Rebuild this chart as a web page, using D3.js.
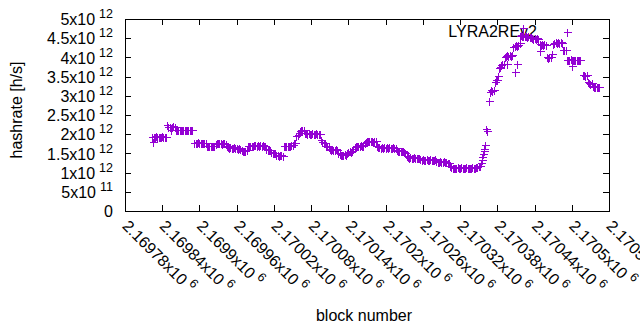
<!DOCTYPE html>
<html><head><meta charset="utf-8">
<script src="https://cdn.jsdelivr.net/npm/d3@7"></script>
<style>
body{margin:0;background:#fff}
svg{display:block}
text{font-family:"Liberation Sans",Arial,sans-serif;fill:#000}
</style>
</head><body>
<svg id="chart" width="640" height="330"></svg>
<script>
// ---- data ----
const seriesName = "LYRA2REv2";
const xTitle = "block number";
const yTitle = "hashrate [h/s]";
const xTickValues = [2169780,2169840,2169900,2169960,2170020,2170080,2170140,2170200,2170260,2170320,2170380,2170440,2170500,2170560];
const xTickMantissa = ["2.16978","2.16984","2.1699","2.16996","2.17002","2.17008","2.17014","2.1702","2.17026","2.17032","2.17038","2.17044","2.1705","2.17056"];
const xTickExponent = "6";
const yTickValues = [0,5e11,1e12,1.5e12,2e12,2.5e12,3e12,3.5e12,4e12,4.5e12,5e12];
const yTickMantissa = ["0","5","1","1.5","2","2.5","3","3.5","4","4.5","5"];
const yTickExponent = ["","11","12","12","12","12","12","12","12","12","12"];
const hashUnit = 1e12; // sample values below are in units of 10^12 h/s
// [block number, hashrate / 1e12]
const samples = [
[2169824,1.92],[2169826,1.94],[2169828,1.93],[2169830,1.95],[2169832,1.93],[2169834,1.94],[2169836,1.92],[2169838,1.93],[2169840,1.95],[2169842,1.94],[2169844,1.93],[2169846,1.92],
[2169825,1.79],
[2169848,2.25],[2169850,2.20],[2169852,2.19],[2169854,2.12],[2169856,2.20],[2169858,2.21],[2169860,2.18],
[2169862,2.12],[2169864,2.11],[2169866,2.12],[2169868,2.10],[2169870,2.11],[2169872,2.12],[2169874,2.11],[2169876,2.10],[2169878,2.12],[2169880,2.11],[2169882,2.12],[2169884,2.10],[2169886,2.11],[2169888,2.12],
[2169892,1.76],[2169894,1.78],[2169896,1.77],[2169898,1.79],[2169900,1.77],[2169902,1.76],[2169904,1.78],[2169906,1.77],[2169908,1.76],[2169910,1.77],
[2169912,1.70],[2169914,1.68],[2169916,1.69],[2169918,1.70],[2169920,1.68],[2169922,1.69],[2169924,1.70],
[2169926,1.75],[2169928,1.77],[2169930,1.76],[2169932,1.78],[2169934,1.76],[2169936,1.75],[2169938,1.77],[2169940,1.76],[2169942,1.75],
[2169944,1.68],[2169946,1.66],[2169948,1.65],[2169950,1.67],[2169952,1.65],[2169954,1.64],[2169956,1.66],[2169958,1.63],[2169960,1.64],[2169962,1.62],[2169964,1.63],
[2169966,1.62],[2169968,1.58],[2169970,1.56],[2169972,1.57],[2169974,1.55],
[2169976,1.58],[2169978,1.68],[2169980,1.70],[2169982,1.69],[2169984,1.68],[2169986,1.70],
[2169988,1.72],[2169990,1.71],[2169992,1.70],[2169994,1.72],[2169996,1.70],[2169998,1.71],[2170000,1.70],[2170002,1.72],[2170004,1.70],[2170006,1.69],
[2170008,1.62],[2170010,1.60],[2170012,1.59],[2170014,1.58],
[2170016,1.53],[2170018,1.52],[2170020,1.51],[2170022,1.52],
[2170024,1.46],[2170026,1.45],[2170028,1.44],[2170030,1.45],[2170032,1.46],[2170034,1.44],
[2170036,1.68],[2170038,1.70],[2170040,1.69],[2170042,1.70],[2170044,1.68],[2170046,1.69],[2170048,1.71],[2170050,1.72],
[2170052,1.76],[2170054,1.78],
[2170056,1.95],[2170058,1.99],[2170060,2.02],
[2170062,2.08],[2170064,2.11],[2170066,2.12],[2170068,2.10],
[2170070,2.04],[2170072,2.02],[2170074,2.01],[2170076,2.02],[2170078,2.00],[2170080,2.01],[2170082,2.02],[2170084,2.00],[2170086,2.01],[2170088,2.02],[2170090,2.00],[2170092,2.01],[2170094,2.00],
[2170096,1.84],[2170098,1.80],[2170100,1.78],[2170102,1.77],
[2170104,1.70],[2170106,1.68],[2170108,1.67],
[2170110,1.62],[2170112,1.60],[2170114,1.61],[2170116,1.59],[2170118,1.60],[2170120,1.61],[2170122,1.59],
[2170124,1.52],[2170126,1.48],[2170128,1.47],[2170130,1.46],[2170132,1.47],[2170134,1.48],[2170136,1.46],
[2170138,1.52],[2170140,1.54],[2170142,1.55],[2170144,1.53],[2170146,1.56],
[2170148,1.62],[2170150,1.66],[2170152,1.69],[2170154,1.70],[2170156,1.68],[2170158,1.70],[2170160,1.71],[2170162,1.69],[2170164,1.70],
[2170166,1.76],[2170168,1.80],[2170170,1.82],[2170172,1.81],[2170174,1.83],[2170176,1.81],[2170178,1.82],[2170180,1.80],[2170182,1.82],[2170184,1.81],
[2170186,1.70],[2170188,1.66],[2170190,1.67],[2170192,1.65],[2170194,1.66],[2170196,1.64],[2170198,1.66],[2170200,1.65],[2170202,1.67],[2170204,1.65],[2170206,1.66],[2170208,1.64],[2170210,1.65],[2170212,1.66],[2170214,1.64],[2170216,1.63],
[2170218,1.58],[2170220,1.57],[2170222,1.55],[2170224,1.56],[2170226,1.57],[2170228,1.55],[2170230,1.54],[2170232,1.52],
[2170234,1.44],[2170236,1.40],[2170238,1.39],[2170240,1.40],[2170242,1.38],[2170244,1.39],[2170246,1.40],[2170248,1.38],[2170250,1.39],[2170252,1.37],[2170254,1.38],[2170256,1.36],
[2170258,1.33],[2170260,1.35],[2170262,1.34],[2170264,1.33],[2170266,1.35],[2170268,1.34],[2170270,1.33],[2170272,1.35],[2170274,1.34],[2170276,1.33],[2170278,1.34],[2170280,1.35],
[2170282,1.30],[2170284,1.28],[2170286,1.27],[2170288,1.29],[2170290,1.28],[2170292,1.27],[2170294,1.29],[2170296,1.28],[2170298,1.27],[2170300,1.26],[2170302,1.25],
[2170304,1.18],[2170306,1.14],[2170308,1.12],[2170310,1.13],[2170312,1.11],[2170314,1.12],[2170316,1.14],[2170318,1.13],[2170320,1.12],[2170322,1.14],[2170324,1.13],[2170326,1.11],[2170328,1.12],[2170330,1.14],[2170332,1.13],[2170334,1.12],[2170336,1.11],[2170338,1.13],[2170340,1.14],[2170342,1.12],[2170344,1.13],[2170346,1.15],[2170348,1.14],[2170350,1.16],
[2170352,1.18],[2170354,1.25],[2170355,1.33],[2170356,1.40],[2170357,1.48],[2170358,1.55],[2170359,1.62],[2170360,1.72],[2170362,2.14],[2170363,2.08],[2170366,2.86],
[2170368,3.10],[2170370,3.14],[2170372,3.12],[2170374,3.16],
[2170376,3.36],[2170378,3.40],[2170380,3.42],[2170381,3.52],
[2170382,3.72],[2170384,3.76],[2170386,3.80],[2170388,3.82],[2170390,3.84],
[2170392,4.00],[2170394,4.03],[2170396,4.05],[2170398,4.04],[2170400,4.06],[2170402,4.04],[2170404,4.05],
[2170396,3.83],[2170412,3.83],[2170408,3.62],
[2170406,4.28],[2170408,4.30],[2170410,4.32],[2170412,4.30],[2170414,4.33],[2170416,4.37],
[2170416,4.55],[2170418,4.58],[2170420,4.57],[2170421,4.77],[2170422,4.57],
[2170424,4.56],[2170426,4.55],[2170428,4.54],[2170430,4.55],[2170432,4.53],[2170434,4.52],
[2170436,4.50],[2170438,4.49],[2170440,4.51],[2170442,4.48],[2170444,4.50],[2170446,4.49],
[2170448,4.35],[2170449,4.17],[2170450,4.33],[2170452,4.34],[2170454,4.32],[2170456,4.35],[2170458,4.33],
[2170460,4.00],[2170462,3.98],[2170464,4.02],[2170466,4.00],[2170468,4.08],
[2170470,4.36],[2170472,4.38],[2170474,4.39],[2170476,4.38],[2170478,4.40],[2170480,4.38],[2170482,4.39],[2170484,4.37],
[2170486,4.20],[2170488,4.18],[2170490,4.19],
[2170492,3.94],[2170494,3.92],[2170496,3.93],[2170498,3.95],[2170500,3.92],[2170500,3.78],[2170502,3.93],[2170504,3.94],[2170506,3.92],[2170508,3.93],[2170510,3.94],[2170512,3.92],[2170514,3.93],
[2170518,3.55],[2170520,3.53],[2170522,3.52],[2170524,3.54],
[2170526,3.35],[2170528,3.33],[2170530,3.32],[2170532,3.34],
[2170534,3.25],[2170536,3.23],[2170538,3.22],[2170540,3.24],[2170542,3.22],[2170544,3.23]
];

// ---- drawing ----
const svg = d3.select("#chart");
const color = "#9400d3";
const plotL = 125, plotR = 609, plotT = 19, plotB = 211;
const x = d3.scaleLinear().domain([2169780, 2170560]).range([plotL, plotR]);
const y = d3.scaleLinear().domain([0, 5e12]).range([plotB, plotT]);

svg.append("rect").attr("width",640).attr("height",330).attr("fill","#fff");

function styleAxis(g){
  g.select(".domain").remove();
  g.selectAll(".tick line").attr("stroke","#000").attr("shape-rendering","crispEdges");
  g.selectAll(".tick text").remove();
}
const gx = svg.append("g").attr("transform",`translate(0,${plotB})`)
  .call(d3.axisBottom(x).tickValues(xTickValues).tickSizeInner(-6).tickSizeOuter(0));
styleAxis(gx);
svg.append("g").attr("transform",`translate(0,${plotT})`)
  .call(d3.axisTop(x).tickValues(xTickValues).tickSizeInner(-6).tickSizeOuter(0)).call(styleAxis);
const gy = svg.append("g").attr("transform",`translate(${plotL},0)`)
  .call(d3.axisLeft(y).tickValues(yTickValues).tickSizeInner(-6).tickSizeOuter(0));
styleAxis(gy);
svg.append("g").attr("transform",`translate(${plotR},0)`)
  .call(d3.axisRight(y).tickValues(yTickValues).tickSizeInner(-6).tickSizeOuter(0)).call(styleAxis);

// border
svg.append("rect").attr("x",plotL+0.5).attr("y",plotT+0.5).attr("width",plotR-plotL).attr("height",plotB-plotT)
  .attr("fill","none").attr("stroke","#000").attr("shape-rendering","crispEdges");

// y tick labels
gy.selectAll(".tick").each(function(d,i){
  const t = d3.select(this).append("text").attr("x",-12).attr("y",0).attr("text-anchor","end").style("font-size","16px");
  const base = yTickMantissa[i] + (yTickExponent[i] ? "x10" : "");
  t.append("tspan").attr("dy","0.35em").text(base);
  if (yTickExponent[i]) t.append("tspan").attr("dx",4).attr("dy",-7).style("font-size","12.5px").text(yTickExponent[i]);
});
// x tick labels (rotated)
gx.selectAll(".tick").each(function(d,i){
  const t = d3.select(this).append("text").attr("transform","translate(0,12) rotate(45)")
    .attr("text-anchor","start").style("font-size","16px");
  t.append("tspan").attr("dy","0.35em").text(xTickMantissa[i] + "x10");
  t.append("tspan").attr("dx",4).attr("dy",-7).style("font-size","12.5px").text(xTickExponent);
});

// titles
svg.append("text").attr("transform","translate(22,110) rotate(-90)").attr("text-anchor","middle")
  .style("font-size","16px").text(yTitle);
svg.append("text").attr("x",364).attr("y",321).attr("text-anchor","middle")
  .style("font-size","16px").text(xTitle);

// legend
svg.append("text").attr("x",537).attr("y",37).attr("text-anchor","end").style("font-size","16px").text(seriesName);
const plus = (px,py)=>{const a=Math.round(px)+0.5,b=Math.round(py)+0.5;return `M${a-4},${b}h8M${a},${b-4}v8`;};
svg.append("path").attr("d",plus(567,32)).attr("stroke",color).attr("fill","none").attr("shape-rendering","crispEdges");

// points
svg.append("g").selectAll("path").data(samples).join("path")
  .attr("d", d => plus(x(d[0]), y(d[1]*hashUnit)))
  .attr("stroke", color).attr("stroke-width",1).attr("fill","none")
  .attr("shape-rendering","crispEdges");
</script>
</body></html>
